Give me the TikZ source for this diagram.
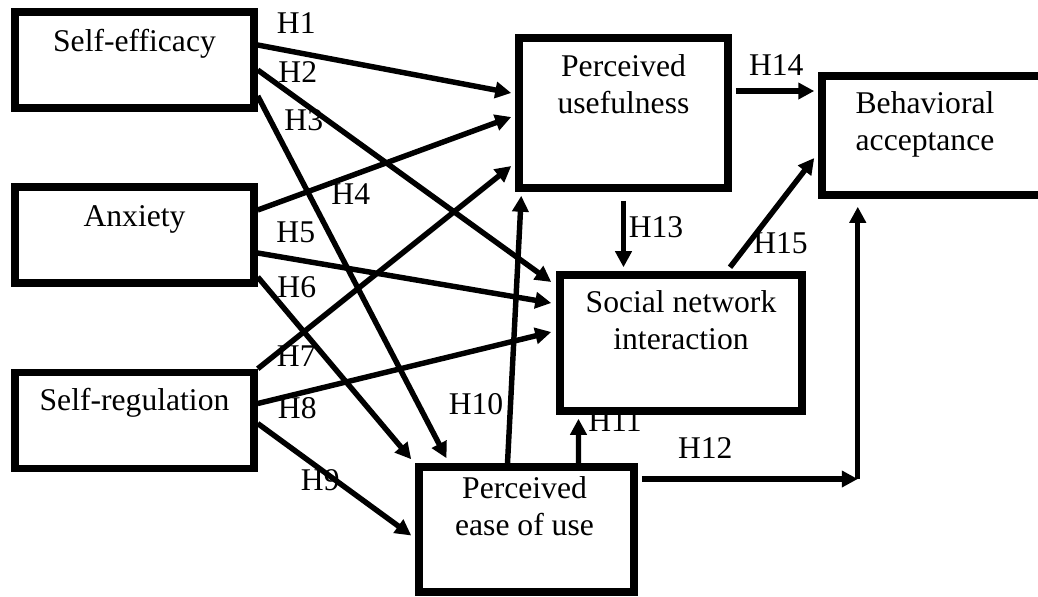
\documentclass[tikz,border=0pt]{standalone}
\usepackage{fontspec}
\setmainfont{Liberation Serif}
\usetikzlibrary{positioning, calc, arrows.meta}

\tikzset{
    factor/.style = {draw, rectangle, line width = 4.3pt},
    boxtext/.style = {align = center, inner sep = 0pt, anchor = base,
        font = \fontsize{18}{21}\selectfont},
    hyp/.style = {-{Triangle[length = 0.32cm, width = 0.32cm]},
        line width = 3.1pt},
    lbl/.style = {inner sep = 0pt, font = \fontsize{18}{21}\selectfont},
}

\begin{document}
\begin{tikzpicture}[x = 0.02cm, y = -0.02cm]
        \useasboundingbox (0,0) rectangle (1038,596);
        % constructs
        \node [factor, minimum width = 4.78cm, minimum height = 1.92cm]
        (effic) at (134.5,60) {};
        \node [factor, minimum width = 4.78cm, minimum height = 1.92cm]
        (anx) at (134.5,235) {};
        \node [factor, minimum width = 4.78cm, minimum height = 1.92cm]
        (regul) at (134.5,420.5) {};
        \node [factor, minimum width = 4.18cm, minimum height = 3.0cm]
        (useful) at (623.5,113) {};
        \node [factor, minimum width = 4.56cm, minimum height = 2.38cm]
        (accept) at (936,135.5) {};
        \node [factor, minimum width = 4.84cm, minimum height = 2.72cm]
        (social) at (681,343) {};
        \node [factor, minimum width = 4.3cm, minimum height = 2.5cm]
        (ease) at (526.5,529.5) {};
        % texts (base = last line)
        \node [boxtext] (efficT) at ($(effic.north)+(0,43)$) {Self-efficacy};
        \node [boxtext] (anxT) at ($(anx.north)+(0,43)$) {Anxiety};
        \node [boxtext] (regulT) at ($(regul.north)+(0,42)$) {Self-regulation};
        \node [boxtext] (usefulT) at ($(useful.north)+(0,79)$)
        {Perceived\\usefulness};
        \node [boxtext] (acceptT) at ($(accept.north)+(-11,78)$)
        {Behavioral\\acceptance};
        \node [boxtext] (socialT) at ($(social.north)+(0,78)$)
        {Social network\\interaction};
        \node [boxtext] (easeT) at ($(ease.north)+(-2,72)$)
        {Perceived\\ease of use};
        % hypotheses
        \draw [hyp] ($(effic.east)+(0,-15)$) -- ($(useful.west)+(-4,-20)$)
        node (h1) [lbl, pos = 0, shift = {(38.5,-22)}] {H1};
        \draw [hyp] ($(effic.east)+(0,10)$) -- ($(social.west)+(-5,-61)$)
        node (h2) [lbl, pos = 0, shift = {(40,2)}] {H2};
        \draw [hyp] ($(effic.east)+(0,36)$) -- ($(ease.north)+(-80,-5)$)
        node (h3) [lbl, pos = 0, shift = {(46,24)}] {H3};
        \draw [hyp] ($(anx.east)+(0,-25)$) -- ($(useful.west)+(-4,4)$)
        node (h4) [lbl, pos = 0, shift = {(93,-16)}] {H4};
        \draw [hyp] ($(anx.east)+(0,18)$) -- ($(social.west)+(-5,-40)$)
        node (h5) [lbl, pos = 0, shift = {(38,-21)}] {H5};
        \draw [hyp] ($(anx.east)+(0,42)$) -- ($(ease.north west)+(-4,-4)$)
        node (h6) [lbl, pos = 0, shift = {(39,10)}] {H6};
        \draw [hyp] (regul.north east) -- ($(useful.west)+(-4,53)$)
        node (h7) [lbl, pos = 0, shift = {(38.5,-13)}] {H7};
        \draw [hyp] ($(regul.east)+(0,-17)$) -- ($(social.west)+(-5,-11)$)
        node (h8) [lbl, pos = 0, shift = {(39.5,4.5)}] {H8};
        \draw [hyp] ($(regul.east)+(0,3)$) -- ($(ease.west)+(-4,6)$)
        node (h9) [lbl, pos = 0, shift = {(62.5,56.5)}] {H9};
        \draw [hyp] ($(ease.north)+(-19,0)$) -- ($(useful.south west)+(6,4)$)
        node (h10) [lbl, pos = 0, shift = {(-31.5,-59)}] {H10};
        \draw [hyp] ($(ease.north)+(52,0)$) -- ($(social.south)+(-102.5,4)$)
        node (h11) [lbl, pos = 0, shift = {(36.5,-42)}] {H11};
        \coordinate (turn) at ($(ease.east)+(220,-50.5)$);
        \draw [hyp] ($(ease.east)+(4,-50.5)$) -- (turn)
        node (h12) [lbl, pos = 0, shift = {(63.5,-30.5)}] {H12};
        \draw [hyp] (turn) -- ($(turn |- accept.south)+(0,8)$);
        \draw [hyp] ($(useful.south)+(0,9)$) -- ($(useful.south |- social.north)+(0,-4)$)
        node (h13) [lbl, pos = 0, shift = {(32.5,26)}] {H13};
        \draw [hyp] ($(useful.east)+(4,-22)$) -- ($(accept.west)+(-4,-44.5)$)
        node (h14) [lbl, pos = 0, shift = {(40.5,-26)}] {H14};
        \draw [hyp] ($(social.north)+(49,-4)$) -- ($(accept.west)+(-4,22.5)$)
        node (h15) [lbl, pos = 0, shift = {(50.5,-24)}] {H15};
\end{tikzpicture}
\end{document}
